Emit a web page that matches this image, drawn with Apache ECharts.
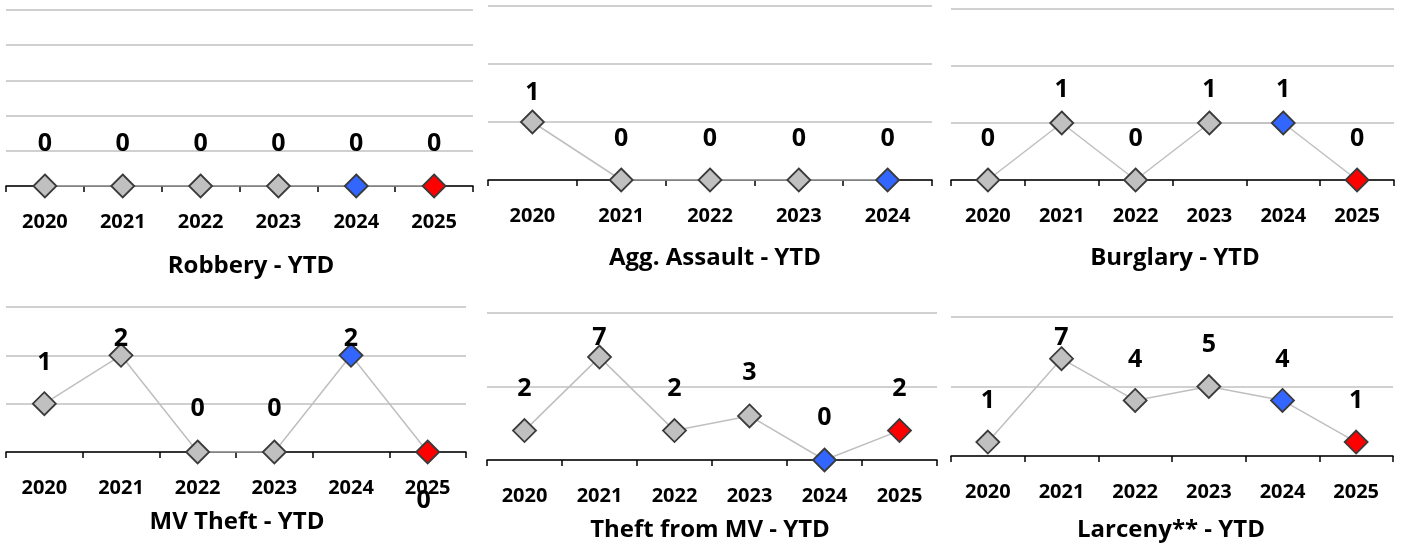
<!DOCTYPE html>
<html><head><meta charset="utf-8">
<script src="https://cdn.jsdelivr.net/npm/echarts@6/dist/echarts.min.js"></script>
<style>html,body{margin:0;padding:0;background:#fff}#c{width:1403px;height:545px}</style>
</head><body><div id="c"></div>
<script>
// ---- data ----
const yearsSix = ['2020', '2021', '2022', '2023', '2024', '2025'];
const yearsFive = ['2020', '2021', '2022', '2023', '2024'];
const robbery = [0, 0, 0, 0, 0, 0];
const aggAssault = [1, 0, 0, 0, 0];
const burglary = [0, 1, 0, 1, 1, 0];
const mvTheft = [1, 2, 0, 0, 2, 0];
const theftFromMV = [2, 7, 2, 3, 0, 2];
const larceny = [1, 7, 4, 5, 4, 1];
const chartTitles = ['Robbery - YTD', 'Agg. Assault - YTD', 'Burglary - YTD',
                     'MV Theft - YTD', 'Theft from MV - YTD', 'Larceny** - YTD'];
const yMax = [5, 3, 3, 3, 10, 10];
const yStep = [1, 1, 1, 1, 5, 5];

// ---- layout / style ----
const FONT = 'Open Sans';
const panels = [
  { cats: yearsSix,  vals: robbery,     grid: { left: 6,   top: 10,  width: 467, height: 176 }, title: [251, 266],
    offs: [[0,-42],[0,-42],[0,-42],[0,-42],[0,-42],[0,-42]] },
  { cats: yearsFive, vals: aggAssault,  grid: { left: 488, top: 6,   width: 444, height: 174 }, title: [715, 258],
    offs: [[0,-29],[0,-41],[0,-41],[0,-41],[0,-41]] },
  { cats: yearsSix,  vals: burglary,    grid: { left: 951, top: 9,   width: 443, height: 171 }, title: [1175, 258],
    offs: [[0,-41],[0,-33],[0,-41],[0,-33],[0,-33],[0,-41]] },
  { cats: yearsSix,  vals: mvTheft,     grid: { left: 6,   top: 307, width: 460, height: 145 }, title: [237, 522],
    offs: [[0,-41],[0,-16],[0,-43],[0,-43],[0,-16],[-4,49]] },
  { cats: yearsSix,  vals: theftFromMV, grid: { left: 487, top: 313, width: 450, height: 147 }, title: [710, 530],
    offs: [[0,-42],[0,-19],[0,-42],[0,-43],[0,-42],[0,-42]] },
  { cats: yearsSix,  vals: larceny,     grid: { left: 951, top: 317, width: 442, height: 139 }, title: [1171, 530],
    offs: [[0,-41],[0,-21],[0,-41],[0,-42],[0,-41],[0,-41]] }
];

function pointColor(cat) {
  if (cat === '2024') return '#3366FF';
  if (cat === '2025') return '#FF0000';
  return '#C0C0C0';
}

const option = {
  animation: false,
  backgroundColor: '#ffffff',
  grid: [], xAxis: [], yAxis: [], series: [], graphic: []
};

panels.forEach((p, i) => {
  option.grid.push(Object.assign({ containLabel: false }, p.grid));
  option.xAxis.push({
    type: 'category', gridIndex: i, data: p.cats, boundaryGap: true,
    axisLine: { show: true, onZero: false, lineStyle: { color: '#000', width: 1.5 } },
    axisTick: { show: true, length: 6, inside: false, lineStyle: { color: '#000', width: 1.5 } },
    axisLabel: { show: true, color: '#000', fontFamily: FONT, fontWeight: 'bold', fontSize: 20, margin: 26, interval: 0 },
    splitLine: { show: false }
  });
  option.yAxis.push({
    type: 'value', gridIndex: i, min: 0, max: yMax[i], interval: yStep[i],
    axisLine: { show: false }, axisTick: { show: false }, axisLabel: { show: false },
    splitLine: { show: true, lineStyle: { color: '#C0C0C0', width: 1.5 } }
  });
  option.series.push({
    type: 'line', xAxisIndex: i, yAxisIndex: i,
    symbol: 'diamond', symbolSize: 23,
    lineStyle: { color: '#BFBFBF', width: 1.5 },
    itemStyle: { borderColor: '#3A3A3A', borderWidth: 1.8 },
    emphasis: { disabled: true },
    z: 3,
    label: {
      show: true, position: 'inside', color: '#000', fontFamily: FONT,
      fontWeight: 'bold', fontSize: 25
    },
    data: p.vals.map((v, k) => ({
      value: v,
      itemStyle: { color: pointColor(p.cats[k]) },
      label: { offset: p.offs[k] }
    }))
  });
  option.graphic.push({
    type: 'text', x: p.title[0], y: p.title[1],
    style: {
      text: chartTitles[i], fill: '#000', fontFamily: FONT, fontWeight: 'bold', fontSize: 24,
      align: 'center', verticalAlign: 'middle'
    }
  });
});

const chart = echarts.init(document.getElementById('c'), null, { renderer: 'canvas' });
chart.setOption(option);
</script>
</body></html>
